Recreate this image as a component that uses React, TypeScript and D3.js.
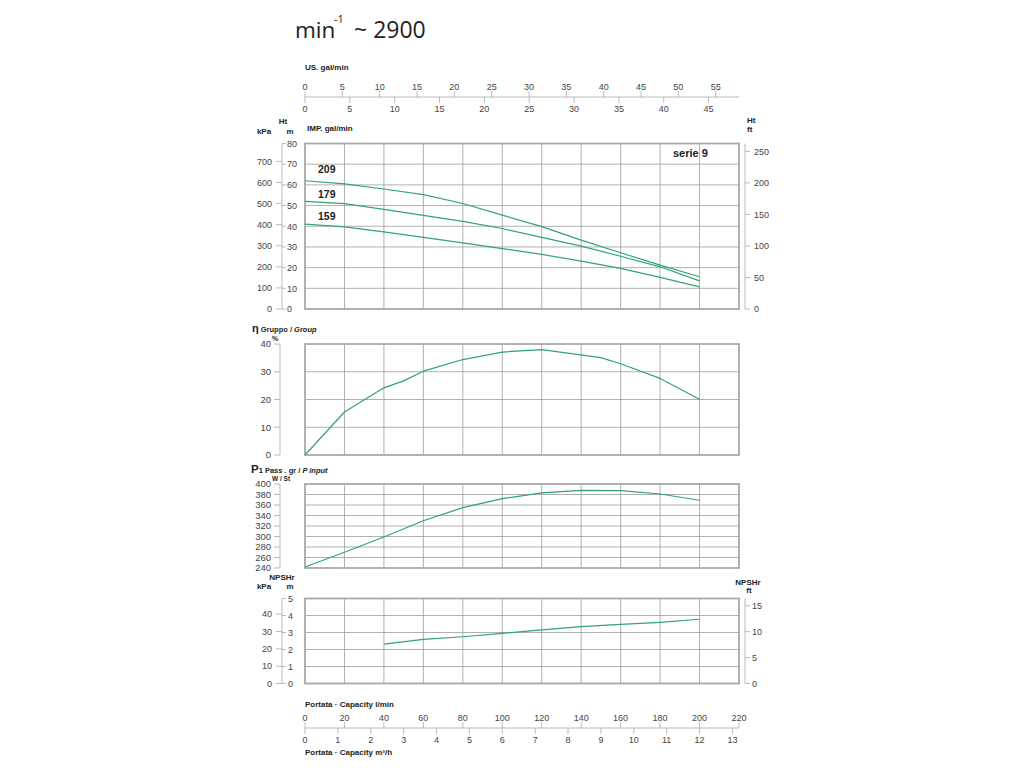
import React from 'react';
import * as d3 from 'd3';

// ---------- data ----------
const FLOW_HEAD = [0, 20, 40, 60, 80, 100, 120, 140, 160, 180, 200];
const HEAD_209 = [62, 60.5, 58, 55.3, 51, 45.4, 39.8, 33.3, 27.2, 21.2, 15.6];
const HEAD_179 = [52, 50.9, 48.2, 45.3, 42.4, 38.9, 34.6, 30.4, 25.5, 20.4, 13.6];
const HEAD_159 = [41, 39.7, 37.3, 34.6, 32, 29.2, 26.4, 23.1, 19.6, 15.3, 10.7];
const CURVE_LABELS = ['209', '179', '159'];
const CURVE_LABEL_HEAD = [65.5, 53.5, 43];

const FLOW_EFF = [0, 20, 40, 50, 60, 80, 100, 120, 150, 160, 180, 200];
const EFF = [0, 15.5, 24.2, 26.7, 30.2, 34.4, 37.1, 38, 35.1, 32.9, 27.6, 20.1];

const FLOW_P1 = [0, 20, 40, 60, 80, 100, 120, 140, 160, 180, 200];
const P1 = [242, 270, 299, 330, 355, 372, 383, 388, 387.5, 381, 369];

const FLOW_NPSH = [40, 60, 80, 100, 120, 140, 160, 180, 200];
const NPSH = [2.32, 2.6, 2.75, 2.95, 3.15, 3.34, 3.48, 3.6, 3.78];

const LPM_TICKS = d3.range(0, 221, 20);
const M3H_TICKS = d3.range(0, 14, 1);
const USGAL_TICKS = d3.range(0, 56, 5);
const IMPGAL_TICKS = d3.range(0, 46, 5);
const HEAD_M_TICKS = d3.range(0, 81, 10);
const HEAD_KPA_TICKS = d3.range(0, 701, 100);
const HEAD_FT_TICKS = d3.range(0, 251, 50);
const EFF_TICKS = [0, 10, 20, 30, 40];
const P1_TICKS = d3.range(240, 401, 20);
const NPSH_M_TICKS = [0, 1, 2, 3, 4, 5];
const NPSH_KPA_TICKS = [0, 10, 20, 30, 40];
const NPSH_FT_TICKS = [0, 5, 10, 15];

// ---------- constants ----------
const FONT = 'Liberation Sans, Arial, Helvetica, sans-serif';
const GREEN = '#33a371';
const GRID = '#9c9c9c';
const FRAME = '#a9a9a9';
const TXT = '#444';
const DARK = '#222';

const x = d3.scaleLinear().domain([0, 220]).range([305, 739]);
const yHead = d3.scaleLinear().domain([0, 80]).range([309, 143.5]);
const yEff = d3.scaleLinear().domain([0, 40]).range([455, 344]);
const yP1 = d3.scaleLinear().domain([240, 400]).range([568, 484]);
const yNpsh = d3.scaleLinear().domain([0, 5]).range([683.5, 598.5]);

const KPA_TO_M = 1 / 9.81;
const FT_TO_M = 0.3048;
const USGAL = 3.78541;
const IMPGAL = 4.54609;
const M3H = 1000 / 60;

function Panel({ y, grid }: { y: d3.ScaleLinear<number, number>; grid: number[] }) {
  const [yb, yt] = y.range();
  return (
    <g>
      {LPM_TICKS.slice(1, -1).map((v) => (
        <line key={'v' + v} x1={x(v)} x2={x(v)} y1={yt} y2={yb} stroke={GRID} strokeWidth={0.8} />
      ))}
      {grid.map((v) => (
        <line key={'h' + v} x1={x(0)} x2={x(220)} y1={y(v)} y2={y(v)} stroke={GRID} strokeWidth={0.8} />
      ))}
      <rect x={x(0)} y={yt} width={x(220) - x(0)} height={yb - yt} fill="none" stroke={FRAME} strokeWidth={1.8} />
    </g>
  );
}

function Curve({ xs, ys, y }: { xs: number[]; ys: number[]; y: d3.ScaleLinear<number, number> }) {
  const pts: [number, number][] = xs.map((v, i) => [v, ys[i]]);
  const gen = d3
    .line<[number, number]>()
    .x((d) => x(d[0]))
    .y((d) => y(d[1]))
    .curve(d3.curveLinear);
  return <path d={gen(pts) || ''} fill="none" stroke={GREEN} strokeWidth={1.2} strokeLinejoin="round" />;
}

function LeftAxis({ y, ticks, conv, lineX, tickLen, labelX, fs = 9 }: any) {
  const [yb, yt] = y.range();
  return (
    <g>
      <line x1={lineX} x2={lineX} y1={yt} y2={yb} stroke={FRAME} strokeWidth={0.8} />
      {ticks.map((t: number) => {
        const yy = y(conv(t));
        return (
          <g key={t}>
            <line x1={lineX - tickLen} x2={lineX} y1={yy} y2={yy} stroke={FRAME} strokeWidth={0.8} />
            <text x={labelX} y={yy + 3.3} textAnchor="end" fontSize={fs} fill={TXT} fontFamily={FONT}>
              {t}
            </text>
          </g>
        );
      })}
    </g>
  );
}

function RightTicks({ y, ticks, conv, lineX, tickLen, labelX, fs = 9 }: any) {
  return (
    <g>
      {ticks.map((t: number) => {
        const yy = y(conv(t));
        return (
          <g key={t}>
            <line x1={lineX} x2={lineX + tickLen} y1={yy} y2={yy} stroke={FRAME} strokeWidth={0.8} />
            <text x={labelX} y={yy + 3.3} textAnchor="start" fontSize={fs} fill={TXT} fontFamily={FONT}>
              {t}
            </text>
          </g>
        );
      })}
    </g>
  );
}

function FlowAxis({ lineY, topTicks, topConv, botTicks, botConv, topLabelY, botLabelY }: any) {
  return (
    <g>
      <line x1={x(0)} x2={x(220)} y1={lineY} y2={lineY} stroke={FRAME} strokeWidth={0.8} />
      {topTicks.map((t: number) => (
        <g key={'t' + t}>
          <line x1={x(topConv(t))} x2={x(topConv(t))} y1={lineY - 6} y2={lineY} stroke={FRAME} strokeWidth={0.8} />
          <text x={x(topConv(t))} y={topLabelY} textAnchor="middle" fontSize={9} fill={TXT} fontFamily={FONT}>
            {t}
          </text>
        </g>
      ))}
      {botTicks.map((t: number) => (
        <g key={'b' + t}>
          <line x1={x(botConv(t))} x2={x(botConv(t))} y1={lineY} y2={lineY + 6} stroke={FRAME} strokeWidth={0.8} />
          <text x={x(botConv(t))} y={botLabelY} textAnchor="middle" fontSize={9} fill={TXT} fontFamily={FONT}>
            {t}
          </text>
        </g>
      ))}
    </g>
  );
}

const bold = { fontFamily: FONT, fontWeight: 700 as const, fill: DARK };

export default function App() {
  return (
    <svg
      width={1024}
      height={768}
      viewBox="0 0 1024 768"
      style={{ position: 'absolute', left: 0, top: 0, background: '#fff' }}
    >
      {/* title */}
      <text x={295} y={38} fontSize={22.5} fontFamily="Open Sans, sans-serif" fill={DARK}>
        min
      </text>
      <text x={334} y={23} fontSize={11} fontFamily="Open Sans, sans-serif" fill={DARK}>
        -1
      </text>
      <text x={354} y={38} fontSize={23} fontFamily="Open Sans, sans-serif" fill={DARK}>
        ~ 2900
      </text>

      {/* top flow axis */}
      <text x={305} y={70} fontSize={8} {...bold}>
        US. gal/min
      </text>
      <FlowAxis
        lineY={97}
        topTicks={USGAL_TICKS}
        topConv={(t: number) => t * USGAL}
        botTicks={IMPGAL_TICKS}
        botConv={(t: number) => t * IMPGAL}
        topLabelY={89.5}
        botLabelY={112}
      />

      {/* ---- head panel ---- */}
      <text x={283} y={124} fontSize={8} textAnchor="middle" {...bold}>
        Ht
      </text>
      <text x={264} y={134} fontSize={8} textAnchor="middle" {...bold}>
        kPa
      </text>
      <text x={290} y={134} fontSize={8} textAnchor="middle" {...bold}>
        m
      </text>
      <text x={307} y={131} fontSize={8} {...bold}>
        IMP. gal/min
      </text>
      <text x={747} y={123} fontSize={8} {...bold}>
        Ht
      </text>
      <text x={747} y={132} fontSize={8} {...bold}>
        ft
      </text>
      <Panel y={yHead} grid={HEAD_M_TICKS.slice(1, -1)} />
      <LeftAxis y={yHead} ticks={HEAD_KPA_TICKS} conv={(t: number) => t * KPA_TO_M} lineX={282} tickLen={6} labelX={272} />
      <RightTicks y={yHead} ticks={HEAD_M_TICKS} conv={(t: number) => t} lineX={282} tickLen={4} labelX={287} />
      <line x1={745} x2={745} y1={143.5} y2={309} stroke={FRAME} strokeWidth={0.8} />
      <RightTicks y={yHead} ticks={HEAD_FT_TICKS} conv={(t: number) => t * FT_TO_M} lineX={745} tickLen={5} labelX={754} />
      <Curve xs={FLOW_HEAD} ys={HEAD_209} y={yHead} />
      <Curve xs={FLOW_HEAD} ys={HEAD_179} y={yHead} />
      <Curve xs={FLOW_HEAD} ys={HEAD_159} y={yHead} />
      {CURVE_LABELS.map((l, i) => (
        <text key={l} x={318} y={yHead(CURVE_LABEL_HEAD[i])} fontSize={10.5} {...bold}>
          {l}
        </text>
      ))}
      <text x={673} y={157} fontSize={11} {...bold}>
        serie 9
      </text>

      {/* ---- efficiency panel ---- */}
      <text x={252} y={331.5} fontFamily={FONT} fill={DARK} fontWeight={700}>
        <tspan fontSize={11}>η</tspan>
        <tspan fontSize={7.5} dx={2}>Gruppo / </tspan>
        <tspan fontSize={7.5} fontStyle="italic">Group</tspan>
      </text>
      <text x={272} y={341} fontSize={7} {...bold}>
        %
      </text>
      <Panel y={yEff} grid={EFF_TICKS.slice(1, -1)} />
      <LeftAxis y={yEff} ticks={EFF_TICKS} conv={(t: number) => t} lineX={280} tickLen={6} labelX={271} fs={9.5} />
      <Curve xs={FLOW_EFF} ys={EFF} y={yEff} />

      {/* ---- power panel ---- */}
      <text x={251} y={472.5} fontFamily={FONT} fill={DARK} fontWeight={700}>
        <tspan fontSize={11.5}>P</tspan>
        <tspan fontSize={7.5}>1 Pass . gr / </tspan>
        <tspan fontSize={7.5} fontStyle="italic">P input</tspan>
      </text>
      <text x={272} y={481} fontSize={6.5} {...bold}>
        W / St
      </text>
      <Panel y={yP1} grid={P1_TICKS.slice(1, -1)} />
      <LeftAxis y={yP1} ticks={P1_TICKS} conv={(t: number) => t} lineX={280} tickLen={6} labelX={271} fs={9.5} />
      <Curve xs={FLOW_P1} ys={P1} y={yP1} />

      {/* ---- NPSH panel ---- */}
      <text x={282} y={580} fontSize={8} textAnchor="middle" {...bold}>
        NPSHr
      </text>
      <text x={264} y={589} fontSize={8} textAnchor="middle" {...bold}>
        kPa
      </text>
      <text x={290} y={589} fontSize={8} textAnchor="middle" {...bold}>
        m
      </text>
      <text x={748} y={585} fontSize={8} textAnchor="middle" {...bold}>
        NPSHr
      </text>
      <text x={749} y={593} fontSize={8} textAnchor="middle" {...bold}>
        ft
      </text>
      <Panel y={yNpsh} grid={NPSH_M_TICKS.slice(1, -1)} />
      <LeftAxis y={yNpsh} ticks={NPSH_KPA_TICKS} conv={(t: number) => t * KPA_TO_M} lineX={282} tickLen={6} labelX={272} />
      <RightTicks y={yNpsh} ticks={NPSH_M_TICKS} conv={(t: number) => t} lineX={282} tickLen={4} labelX={288} />
      <line x1={745} x2={745} y1={598.5} y2={683.5} stroke={FRAME} strokeWidth={0.8} />
      <RightTicks y={yNpsh} ticks={NPSH_FT_TICKS} conv={(t: number) => t * FT_TO_M} lineX={745} tickLen={5} labelX={752} />
      <Curve xs={FLOW_NPSH} ys={NPSH} y={yNpsh} />

      {/* bottom flow axis */}
      <text x={305} y={707} fontSize={8} {...bold}>
        Portata · Capacity l/min
      </text>
      <FlowAxis
        lineY={728}
        topTicks={LPM_TICKS}
        topConv={(t: number) => t}
        botTicks={M3H_TICKS}
        botConv={(t: number) => t * M3H}
        topLabelY={720.5}
        botLabelY={742.5}
      />
      <text x={305} y={755} fontSize={8} {...bold}>
        Portata · Capacity m³/h
      </text>
    </svg>
  );
}
